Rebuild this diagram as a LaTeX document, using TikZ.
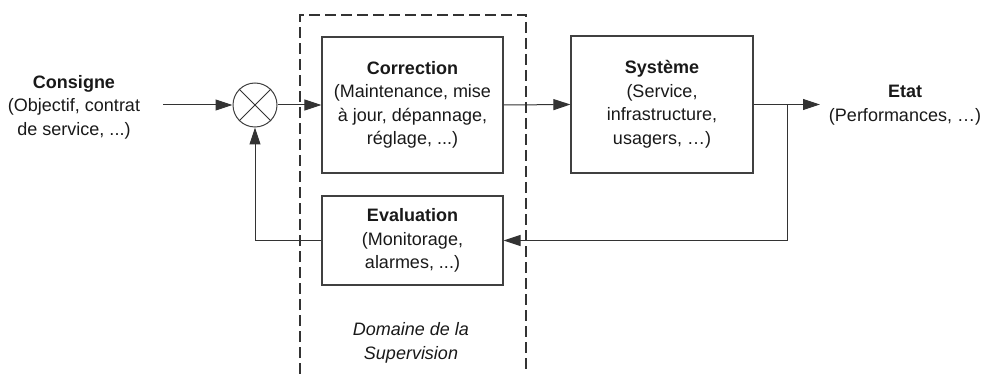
\documentclass[tikz,border=0pt]{standalone}
\usepackage{fontspec}
\setmainfont{Liberation Sans}
\usetikzlibrary{arrows.meta}
\begin{document}
\begin{tikzpicture}[x=1pt,y=-1pt,
  txt/.style={align=center, inner sep=0pt, text=black!90, font=\fontsize{18}{23.5}\selectfont},
  box/.style={txt, draw=black!75, line width=1.1pt},
  conn/.style={draw=black!80, line width=1pt, -{Triangle[length=17pt,width=11pt]}},
  plain/.style={draw=black!80, line width=1pt},
  supdomain/.style={draw=black!80, line width=2pt, dash pattern=on 11pt off 5pt}]
\useasboundingbox (0,0) rectangle (982,374);
% supervision domain
\coordinate (dbl) at (300,374);
\coordinate (dtl) at (300,15);
\coordinate (dtr) at (526,15);
\coordinate (dbr) at (526,374);
\draw[supdomain] (dbl) -- (dtl) -- (dtr) -- (dbr);
% blocks
\node[box, minimum width=181pt, minimum height=136pt] (corr) at (412.5,105)
  {\textbf{Correction}\\(Maintenance, mise\\à jour, dépannage,\\réglage, ...)};
\node[box, minimum width=182pt, minimum height=137pt] (sys) at (662,104.5)
  {\textbf{Système}\\(Service,\\infrastructure,\\usagers, …)};
\node[box, minimum width=181pt, minimum height=89pt] (eval) at (412.5,240.5)
  {\textbf{Evaluation}\\(Monitorage,\\alarmes, ...)};
\node[circle, draw=black!75, line width=1pt, minimum size=44pt, inner sep=0pt] (sum) at (255,105) {};
\draw[plain] (sum.north west) -- (sum.south east);
\draw[plain] (sum.north east) -- (sum.south west);
% labels
\node[txt] (consigne) at (74,107) {\textbf{Consigne}\\(Objectif, contrat\\de service, ...)};
\node[txt] (etat) at (905,105) {\textbf{Etat}\\(Performances, …)};
\node[txt, font=\fontsize{18}{23.5}\selectfont\itshape] (dom) at (411,343) {Domaine de la\\Supervision};
% connectors
\coordinate (in) at (163,105);
\coordinate (out) at (820,104.5);
\coordinate (branch) at (787,104.5);
\coordinate (branchdown) at (787,240.5);
\draw[conn] (in) -- (sum.west);
\draw[conn] (sum.east) -- (corr.west);
\draw[conn] (corr.east) -- (sys.west);
\draw[conn] (sys.east) -- (out);
\draw[conn] (branch) -- (branchdown) -- (eval.east);
\draw[conn] (eval.west) -| (sum.south);
\end{tikzpicture}
\end{document}
